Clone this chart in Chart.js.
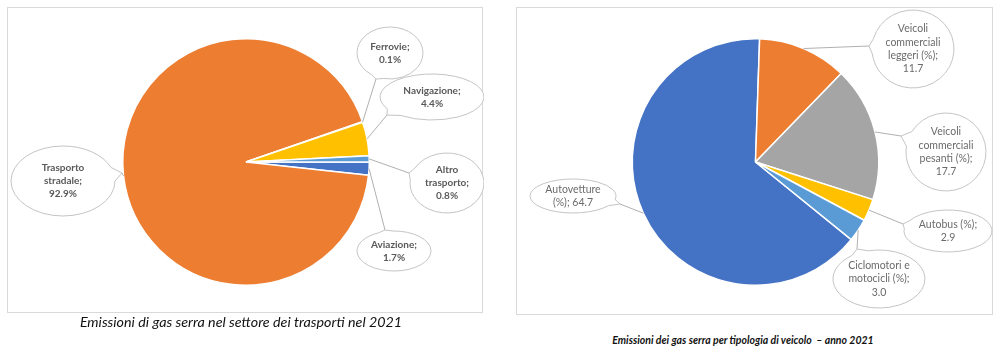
<!DOCTYPE html>
<html><head><meta charset="utf-8">
<script src="https://cdn.jsdelivr.net/npm/chart.js@4"></script>
<style>
html,body{margin:0;padding:0;background:#fff;width:1000px;height:358px;overflow:hidden;font-family:Lato,"Liberation Sans",sans-serif;}
.box{position:absolute;border:1px solid #d9d9d9;box-sizing:border-box;}
.box canvas{position:absolute;left:0;top:0;}
.cap{position:absolute;text-align:center;white-space:pre;color:#111;}
</style></head>
<body>
<div class="box" id="b1" style="left:7px;top:7px;width:476px;height:306px;"><canvas id="c1" width="476" height="306"></canvas></div>
<div class="box" id="b2" style="left:516px;top:7px;width:477px;height:308px;"><canvas id="c2" width="477" height="308"></canvas></div>
<div class="cap" style="left:41px;top:313px;width:400px;font-style:italic;font-size:14.3px;line-height:18px;">Emissioni di gas serra nel settore dei trasporti nel 2021</div>
<div class="cap" style="left:593px;top:333px;width:300px;font-style:italic;font-weight:bold;font-size:10.5px;line-height:15px;">Emissioni dei gas serra per tipologia di veicolo  – anno 2021</div>
<script>
// ---- data ----
const sectorCategories = ['Aviazione', 'Trasporto stradale', 'Ferrovie', 'Navigazione', 'Altro trasporto'];
const sectorValues = [1.7, 92.9, 0.1, 4.4, 0.8];
const vehicleCategories = ['Autovetture (%)', 'Veicoli commerciali leggeri (%)', 'Veicoli commerciali pesanti (%)', 'Autobus (%)', 'Ciclomotori e motocicli (%)'];
const vehicleValues = [64.7, 11.7, 17.7, 2.9, 3.0];

// ---- styling / layout ----
const palette = ['#4472C4', '#ED7D31', '#A5A5A5', '#FFC000', '#5B9BD5'];

const sectorCallouts = [
  {cx:386, cy:243, rx:37, ry:20, tx:377, ty:222, wrap:60},
  {cx:55,  cy:173, rx:52, ry:35, tx:114, ty:165, wrap:50},
  {cx:382, cy:45,  rx:33, ry:26, tx:368, ty:71,  wrap:50},
  {cx:424, cy:89,  rx:52, ry:23, tx:379, ty:107, wrap:80},
  {cx:439, cy:175, rx:37, ry:30, tx:401, ty:165, wrap:55}
];
const vehicleCallouts = [
  {cx:56,  cy:188, rx:43, ry:17, tx:103, ty:196, wrap:62},
  {cx:396, cy:41,  rx:41, ry:39, tx:352, ty:38,  wrap:62},
  {cx:429, cy:144, rx:40, ry:39, tx:384, ty:128, wrap:62},
  {cx:431, cy:223, rx:44, ry:21, tx:386, ty:216, wrap:75},
  {cx:362, cy:271, rx:46, ry:29, tx:340, ty:241, wrap:75}
];

function wrapText(ctx, text, maxW){
  const words = text.split(' ');
  const lines = [];
  let cur = '';
  words.forEach(w => {
    const t = cur ? cur + ' ' + w : w;
    if (cur && ctx.measureText(t).width > maxW) { lines.push(cur); cur = w; }
    else cur = t;
  });
  if (cur) lines.push(cur);
  return lines;
}

const calloutPlugin = {
  id: 'callouts',
  afterDatasetsDraw(chart, args, opts) {
    const ctx = chart.ctx;
    const meta = chart.getDatasetMeta(0);
    const labels = chart.data.labels;
    const vals = chart.data.datasets[0].data;
    ctx.save();
    opts.items.forEach((it, i) => {
      const arc = meta.data[i];
      const p = arc.getProps(['x','y','startAngle','endAngle','outerRadius'], true);
      const mid = (p.startAngle + p.endAngle) / 2;
      const ax = p.x + Math.cos(mid) * p.outerRadius;
      const ay = p.y + Math.sin(mid) * p.outerRadius;
      ctx.beginPath();
      ctx.moveTo(ax, ay);
      ctx.lineTo(it.tx, it.ty);
      ctx.strokeStyle = '#b0b0b0';
      ctx.lineWidth = 1;
      ctx.stroke();
      const phi = Math.atan2((it.ty - it.cy) / it.ry, (it.tx - it.cx) / it.rx);
      const d = 0.2;
      ctx.beginPath();
      ctx.ellipse(it.cx, it.cy, it.rx, it.ry, 0, phi + d, phi - d + Math.PI * 2);
      ctx.lineTo(it.tx, it.ty);
      ctx.closePath();
      ctx.fillStyle = '#fff';
      ctx.fill();
      ctx.strokeStyle = '#c4c4c4';
      ctx.stroke();
      ctx.font = opts.font;
      ctx.fillStyle = opts.color;
      ctx.textAlign = 'center';
      ctx.textBaseline = 'middle';
      const txt = labels[i] + '; ' + opts.fmt(vals[i]);
      const lines = wrapText(ctx, txt, it.wrap);
      const lh = opts.lineHeight;
      const y0 = it.cy - (lines.length - 1) * lh / 2;
      lines.forEach((ln, k) => ctx.fillText(ln, it.cx, y0 + k * lh));
    });
    ctx.restore();
  }
};

function makePie(id, cats, vals, rotation, padding, callouts, font, color, fmt, lineHeight){
  return new Chart(document.getElementById(id), {
    type: 'pie',
    data: {
      labels: cats,
      datasets: [{data: vals, backgroundColor: palette, borderColor: '#ffffff', borderWidth: 1.5}]
    },
    options: {
      responsive: false,
      animation: false,
      rotation: rotation,
      layout: {padding: padding},
      plugins: {
        legend: {display: false},
        tooltip: {enabled: false},
        callouts: {items: callouts, font: font, color: color, fmt: fmt, lineHeight: lineHeight}
      }
    },
    plugins: [calloutPlugin]
  });
}

makePie('c1', sectorCategories, sectorValues, 90, {top:30, bottom:28, left:0, right:0},
  sectorCallouts, 'bold 10px Lato', '#595959', v => v.toFixed(1) + '%', 13);
makePie('c2', vehicleCategories, vehicleValues, 129, {top:30, bottom:30, left:0, right:0},
  vehicleCallouts, '10.5px Lato', '#6b6b6b', v => v.toFixed(1), 13.3);
</script>
</body></html>
